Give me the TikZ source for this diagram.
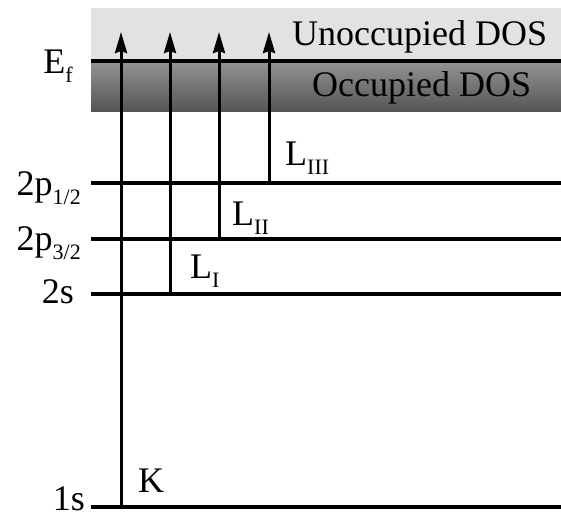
\documentclass[tikz,border=0pt]{standalone}
\usepackage{fontspec}
\setmainfont{Liberation Serif}
\usetikzlibrary{arrows.meta}
\definecolor{lightband}{RGB}{226,226,226}
\definecolor{darktop}{RGB}{148,148,148}
\definecolor{darkbot}{RGB}{85,85,85}
\newcommand{\lowtxt}[1]{\raisebox{-9pt}{\fontsize{22}{22}\selectfont #1}}
\tikzset{
  lbl/.style={inner sep=0pt, anchor=base west, font=\fontsize{36}{40}\selectfont},
  lblr/.style={lbl, anchor=base east},
  level/.style={line width=3.6pt},
  excite/.style={line width=3pt, -{Stealth[length=21pt,width=12pt,inset=2pt]}}
}
\begin{document}
\begin{tikzpicture}[x=1pt,y=-1pt]
\useasboundingbox (0,0) rectangle (561,515);
% bands
\fill[lightband] (91,8) rectangle (561,61);
\shade[top color=darktop, bottom color=darkbot] (91,61) rectangle (561,111);
% level coordinates
\coordinate (ef0) at (91,61);  \coordinate (ef1) at (561,61);
\coordinate (p10) at (91,183); \coordinate (p11) at (561,183);
\coordinate (p30) at (91,239); \coordinate (p31) at (561,239);
\coordinate (s20) at (91,294); \coordinate (s21) at (561,294);
\coordinate (s10) at (91,507); \coordinate (s11) at (561,507);
\draw[level] (ef0) -- (ef1);
\draw[level] (p10) -- (p11);
\draw[level] (p30) -- (p31);
\draw[level] (s20) -- (s21);
\draw[level] (s10) -- (s11);
% arrows
\coordinate (kA) at (121,507); \coordinate (kB) at (121,32);
\coordinate (l1A) at (170,294); \coordinate (l1B) at (170,32);
\coordinate (l2A) at (219,239); \coordinate (l2B) at (219,32);
\coordinate (l3A) at (269,183); \coordinate (l3B) at (269,32);
\draw[excite] (kA) -- (kB);
\draw[excite] (l1A) -- (l1B);
\draw[excite] (l2A) -- (l2B);
\draw[excite] (l3A) -- (l3B);
% labels
\node[lbl] (unocc) at (292,45) {Unoccupied DOS};
\node[lbl] (occ) at (312,96) {Occupied DOS};
\node[lblr] (efl) at (73,73) {E\lowtxt{f}};
\node[lblr] (p12l) at (81,195) {2p\lowtxt{1/2}};
\node[lblr] (p32l) at (81,250) {2p\lowtxt{3/2}};
\node[lblr] (s2l) at (74,303) {2s};
\node[lblr] (s1l) at (85,510) {1s};
\node[lbl] (kl) at (138,492) {K};
\node[lbl] (l1l) at (190,278) {L\lowtxt{I}};
\node[lbl] (l2l) at (232,225) {L\lowtxt{II}};
\node[lbl] (l3l) at (285,165) {L\lowtxt{III}};
\end{tikzpicture}
\end{document}
